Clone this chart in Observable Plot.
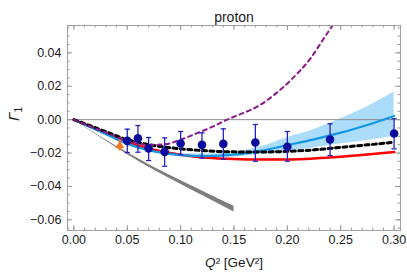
<!DOCTYPE html>
<html><head><meta charset="utf-8">
<script src="https://cdn.jsdelivr.net/npm/d3@7"></script>
<script src="https://cdn.jsdelivr.net/npm/@observablehq/plot@0.6"></script>
<style>
body{margin:0;background:#fff;}
#chart svg{font-family:"Liberation Sans",Arial,Helvetica,sans-serif;background:#fff;}
</style>
</head><body><div id="chart"></div>
<script>
// ---- text ----
const title = "proton";
const xLabel = "Q² [GeV²]";
const yLabel = "Γ1";
const xTicks = [0, 0.05, 0.10, 0.15, 0.20, 0.25, 0.30];
const yTicks = [-0.06, -0.04, -0.02, 0.00, 0.02, 0.04];

// ---- data points (blue) ----
const ptQ2  = [0.050, 0.060, 0.070, 0.085, 0.100, 0.120, 0.140, 0.170, 0.200, 0.240, 0.300];
const ptG1  = [-0.0127, -0.0111, -0.0173, -0.0193, -0.0143, -0.0151, -0.0145, -0.0137, -0.0163, -0.0119, -0.0083];
const ptHi  = [-0.0057, -0.0035, -0.0107, -0.0109, -0.0071, -0.0079, -0.0055, -0.0029, -0.0071, -0.0025, 0.0005];
const ptLo  = [-0.0197, -0.0195, -0.0245, -0.0279, -0.0210, -0.0231, -0.0237, -0.0249, -0.0249, -0.0215, -0.0175];

// ---- orange point ----
const orQ2 = [0.043];
const orG1 = [-0.0156];
const orHi = [-0.0123];
const orLo = [-0.0187];

// ---- curves on common grid ----
const curveQ2   = [0, 0.025, 0.05, 0.075, 0.10, 0.125, 0.15, 0.175, 0.20, 0.225, 0.25, 0.275, 0.30];
const blackG1   = [0, -0.0060, -0.0120, -0.0155, -0.0175, -0.0187, -0.0193, -0.0194, -0.0190, -0.0181, -0.0166, -0.0151, -0.0135];
const redG1     = [0, -0.0068, -0.0135, -0.0180, -0.0210, -0.0228, -0.0236, -0.0239, -0.0238, -0.0232, -0.0222, -0.0209, -0.0194];
const blueG1    = [0, -0.0072, -0.0145, -0.0190, -0.0212, -0.0218, -0.0210, -0.0187, -0.0153, -0.0118, -0.0078, -0.0032, 0.0022];
const blueUpper = [0, -0.0070, -0.0141, -0.0184, -0.0204, -0.0206, -0.0195, -0.0163, -0.0108, -0.0059, 0.0005, 0.0078, 0.0165];
const blueLower = [0, -0.0074, -0.0149, -0.0196, -0.0220, -0.0229, -0.0224, -0.0207, -0.0190, -0.0168, -0.0145, -0.0125, -0.0100];

// ---- gray band ----
const grayQ2    = [0, 0.025, 0.05, 0.075, 0.10, 0.125, 0.15];
const grayUpper = [0, -0.0102, -0.0197, -0.0285, -0.0364, -0.0442, -0.0519];
const grayLower = [0, -0.0107, -0.0208, -0.0301, -0.0387, -0.0470, -0.0553];

// ---- purple dashed ----
const purpleQ2 = [0, 0.025, 0.05, 0.07, 0.085, 0.10, 0.115, 0.13, 0.1436, 0.158, 0.1718, 0.1875, 0.2032, 0.222, 0.2345, 0.2424, 0.25];
const purpleG1 = [0, -0.0065, -0.0125, -0.0152, -0.0148, -0.0120, -0.0082, -0.0042, 0, 0.0038, 0.0078, 0.0148, 0.0237, 0.0370, 0.0490, 0.0566, 0.0650];

// ---- build tables ----
const points = ptQ2.map((x, i) => ({x, y: ptG1[i], hi: ptHi[i], lo: ptLo[i]}));
const orange = orQ2.map((x, i) => ({x, y: orG1[i], hi: orHi[i], lo: orLo[i]}));
const curves = curveQ2.map((x, i) => ({x, black: blackG1[i], red: redG1[i], blue: blueG1[i], bu: blueUpper[i], bl: blueLower[i]}));
const gray = grayQ2.map((x, i) => ({x, hi: grayUpper[i], lo: grayLower[i]}));
const purple = purpleQ2.map((x, i) => ({x, y: purpleG1[i]}));

const W = 407, H = 279, mL = 67, mR = 7, mT = 25, mB = 49;
const fw = W - mL - mR, fh = H - mT - mB;
const xMinor = d3.range(0, 0.3001, 0.01);
const yMinor = d3.range(-0.065, 0.0551, 0.005);
const fmt = d3.format(".2f");
const capSym = {draw(ctx, size) { const r = Math.sqrt(size / Math.PI); ctx.moveTo(-r, 0); ctx.lineTo(r, 0); }};
const tickC = "#9a9a9a";

const chart = Plot.plot({
  width: W, height: H,
  marginLeft: mL, marginRight: mR, marginTop: mT, marginBottom: mB,
  x: {domain: [-0.006, 0.306], axis: null},
  y: {domain: [-0.0664, 0.0564], axis: null},
  marks: [
    // bands
    Plot.areaY(gray, {x: "x", y1: "lo", y2: "hi", fill: "#7d7d7d", curve: "monotone-x"}),
    Plot.areaY(curves, {x: "x", y1: "bl", y2: "bu", fill: "#8fd0f8", fillOpacity: 0.75, curve: "monotone-x"}),
    // zero line
    Plot.ruleY([0], {stroke: "#8c8c8c", strokeWidth: 1}),
    // curves
    Plot.line(curves, {x: "x", y: "red", stroke: "#ff0000", strokeWidth: 2.5, curve: "monotone-x"}),
    Plot.line(curves, {x: "x", y: "blue", stroke: "#1297e6", strokeWidth: 2.2, curve: "monotone-x"}),
    Plot.line(curves, {x: "x", y: "black", stroke: "#000", strokeWidth: 3, strokeDasharray: "4,3.4", curve: "monotone-x"}),
    Plot.line(purple, {x: "x", y: "y", stroke: "#8a1a8a", strokeWidth: 2, strokeDasharray: "4,4", curve: "monotone-x", clip: true}),
    // error bars
    Plot.ruleX(points, {x: "x", y1: "lo", y2: "hi", stroke: "#2323c4", strokeWidth: 1.3}),
    Plot.dot(points, {x: "x", y: "hi", symbol: capSym, r: 2.6, stroke: "#2323c4", strokeWidth: 1.3}),
    Plot.dot(points, {x: "x", y: "lo", symbol: capSym, r: 2.6, stroke: "#2323c4", strokeWidth: 1.3}),
    Plot.dot(points, {x: "x", y: "y", r: 4.3, fill: "#0c0c9c", stroke: "none"}),
    // orange point
    Plot.ruleX(orange, {x: "x", y1: "lo", y2: "hi", stroke: "#f47a20", strokeWidth: 2.2}),
    Plot.dot(orange, {x: "x", y: "y", symbol: "triangle", r: 3.4, fill: "#f47a20", stroke: "none"}),
    // frame and ticks
    Plot.frame({stroke: "#a0a0a0"}),
    Plot.ruleX(xTicks, {x: d => d, insetTop: fh - 5, stroke: tickC}),
    Plot.ruleX(xTicks, {x: d => d, insetBottom: fh - 5, stroke: tickC}),
    Plot.ruleX(xMinor, {x: d => d, insetTop: fh - 2.5, stroke: tickC}),
    Plot.ruleX(xMinor, {x: d => d, insetBottom: fh - 2.5, stroke: tickC}),
    Plot.ruleY(yTicks, {y: d => d, insetRight: fw - 5, stroke: tickC}),
    Plot.ruleY(yTicks, {y: d => d, insetLeft: fw - 5, stroke: tickC}),
    Plot.ruleY(yMinor, {y: d => d, insetRight: fw - 2.5, stroke: tickC}),
    Plot.ruleY(yMinor, {y: d => d, insetLeft: fw - 2.5, stroke: tickC}),
    // tick labels
    Plot.axisX(xTicks, {tickSize: 0, tickPadding: 5, tickFormat: fmt, fontSize: 12.5, label: null, fill: "#1a1a1a"}),
    Plot.axisY(yTicks, {tickSize: 0, tickPadding: 6, tickFormat: fmt, fontSize: 12.5, label: null, fill: "#1a1a1a"}),
    // titles
    Plot.text([title], {frameAnchor: "top", dy: -13, fontSize: 14, fill: "#1a1a1a", className: "ttl"}),
    Plot.text([xLabel], {frameAnchor: "bottom", dy: 36, fontSize: 13.5, fill: "#1a1a1a", className: "xlab"}),
    Plot.text([yLabel], {frameAnchor: "left", dx: -53, dy: -7, rotate: -90, fontSize: 15, fill: "#1a1a1a", className: "ylab"})
  ]
});
document.getElementById("chart").appendChild(chart);

// rich formatting of axis titles
const xl = d3.select(chart).select(".xlab text");
xl.text(null);
xl.append("tspan").attr("font-style", "italic").text("Q");
xl.append("tspan").text("² [GeV²]");
const yl = d3.select(chart).select(".ylab text");
yl.text(null);
yl.append("tspan").attr("font-style", "italic").text("Γ");
yl.append("tspan").attr("font-size", 10).attr("dy", 3).text("1");
</script>
</body></html>
